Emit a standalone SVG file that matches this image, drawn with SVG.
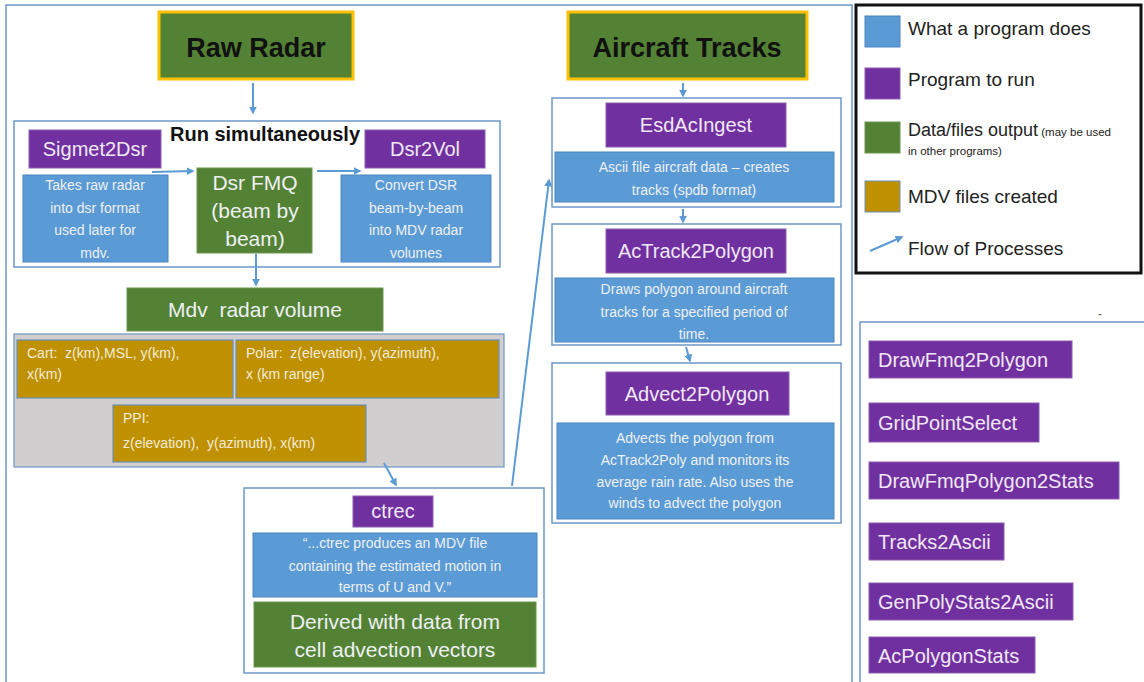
<svg xmlns="http://www.w3.org/2000/svg" width="1144" height="682" viewBox="0 0 1144 682">
<defs>
<style>
.t{font-family:"Liberation Sans",Arial,sans-serif}
.blue{fill:#5b9bd5;stroke:#4a86c0;stroke-width:1}
.purple{fill:#7030a0;stroke:#8a5cb0;stroke-width:1}
.green{fill:#548235;stroke:#6a9650;stroke-width:1}
.gold{fill:#bf9000;stroke:#6d8fb8;stroke-width:1.2}
.frame{fill:#fff;stroke:#6d97c8;stroke-width:1.5}
.lt{fill:#eef0f4}
.pt{fill:#f0e8f6;font-size:20px}
.bt{fill:#eef0f4;font-size:14px}
.conn{stroke:#5b9bd5;stroke-width:2;fill:none}
</style>
<marker id="ah" viewBox="0 0 10 10" refX="8" refY="5" markerWidth="4" markerHeight="4" orient="auto">
<path d="M0,0 L10,5 L0,10 z" fill="#5b9bd5"/>
</marker>
</defs>
<rect x="0" y="0" width="1144" height="682" fill="#fff"/>
<rect x="6" y="5" width="846" height="690" fill="none" stroke="#6d97c8" stroke-width="1.5"/>

<g id="raw-radar">
<rect x="159" y="12" width="194" height="67" fill="#548235" stroke="#ffc000" stroke-width="3"/>
<text class="t" x="256" y="57" font-size="27" font-weight="bold" text-anchor="middle" fill="#111">Raw Radar</text>
</g>

<g id="run-simultaneously">
<rect x="14" y="121" width="486" height="146" class="frame"/>
<text class="t" x="265" y="141" font-size="20" font-weight="bold" text-anchor="middle" fill="#111">Run simultaneously</text>
</g>

<g id="sigmet2dsr">
<rect x="29" y="130" width="132" height="38" class="purple"/>
<text class="t pt" x="95" y="156" text-anchor="middle">Sigmet2Dsr</text>
<rect x="23" y="175" width="145" height="87" class="blue"/>
<text class="t bt" text-anchor="middle"><tspan x="95" y="190">Takes raw radar</tspan><tspan x="95" y="213">into dsr format</tspan><tspan x="95" y="235">used later for</tspan><tspan x="95" y="258">mdv.</tspan></text>
</g>

<g id="dsr-fmq">
<rect x="197" y="168" width="115" height="85" class="green"/>
<text class="t lt" font-size="21" text-anchor="middle"><tspan x="255" y="190">Dsr FMQ</tspan><tspan x="255" y="218">(beam by</tspan><tspan x="255" y="246">beam)</tspan></text>
</g>

<g id="dsr2vol">
<rect x="365" y="130" width="120" height="38" class="purple"/>
<text class="t pt" x="425" y="156" text-anchor="middle">Dsr2Vol</text>
<rect x="341" y="175" width="150" height="87" class="blue"/>
<text class="t bt" text-anchor="middle"><tspan x="416" y="190">Convert DSR</tspan><tspan x="416" y="213">beam-by-beam</tspan><tspan x="416" y="235">into MDV radar</tspan><tspan x="416" y="258">volumes</tspan></text>
</g>

<g id="mdv-radar-volume">
<rect x="127" y="288" width="256" height="43" class="green"/>
<text class="t lt" x="255" y="317" font-size="21" text-anchor="middle">Mdv&#160; radar volume</text>
</g>

<g id="mdv-types">
<rect x="14" y="334" width="490" height="133" fill="#d0cece" stroke="#6d97c8" stroke-width="1.2"/>
<rect x="17" y="340" width="216" height="58" class="gold"/>
<text class="t" font-size="14" fill="#f2ecd8"><tspan x="27" y="358">Cart:&#160; z(km),MSL, y(km),</tspan><tspan x="27" y="379">x(km)</tspan></text>
<rect x="236" y="340" width="263" height="58" class="gold"/>
<text class="t" font-size="14" fill="#f2ecd8"><tspan x="246" y="358">Polar:&#160; z(elevation), y(azimuth),</tspan><tspan x="246" y="379">x (km range)</tspan></text>
<rect x="113" y="405" width="253" height="57" class="gold"/>
<text class="t" font-size="14" fill="#f2ecd8"><tspan x="123" y="423">PPI:</tspan><tspan x="123" y="448">z(elevation),&#160; y(azimuth), x(km)</tspan></text>
</g>

<g id="ctrec">
<rect x="244" y="488" width="300" height="185" class="frame"/>
<rect x="353" y="496" width="80" height="31" class="purple"/>
<text class="t pt" x="393" y="518" text-anchor="middle">ctrec</text>
<rect x="253" y="533" width="284" height="64" class="blue"/>
<text class="t bt" text-anchor="middle"><tspan x="395" y="548">“...ctrec produces an MDV file</tspan><tspan x="395" y="571">containing the estimated motion in</tspan><tspan x="395" y="592">terms of U and V.”</tspan></text>
<rect x="254" y="602" width="282" height="65" class="green"/>
<text class="t lt" font-size="21" text-anchor="middle"><tspan x="395" y="629">Derived with data from</tspan><tspan x="395" y="657">cell advection vectors</tspan></text>
</g>

<g id="aircraft-tracks">
<rect x="568" y="12" width="239" height="67" fill="#548235" stroke="#ffc000" stroke-width="3"/>
<text class="t" x="687" y="57" font-size="27" font-weight="bold" text-anchor="middle" fill="#111">Aircraft Tracks</text>
</g>

<g id="esdacingest">
<rect x="552" y="98" width="289" height="109" class="frame"/>
<rect x="606" y="103" width="180" height="44" class="purple"/>
<text class="t pt" x="696" y="132" text-anchor="middle">EsdAcIngest</text>
<rect x="555" y="152" width="279" height="50" class="blue"/>
<text class="t bt" text-anchor="middle"><tspan x="694" y="172">Ascii file aircraft data – creates</tspan><tspan x="694" y="195">tracks (spdb format)</tspan></text>
</g>

<g id="actrack2polygon">
<rect x="552" y="224" width="289" height="121" class="frame"/>
<rect x="606" y="229" width="180" height="44" class="purple"/>
<text class="t pt" x="696" y="258" text-anchor="middle">AcTrack2Polygon</text>
<rect x="555" y="278" width="279" height="64" class="blue"/>
<text class="t bt" text-anchor="middle"><tspan x="694" y="294">Draws polygon around aircraft</tspan><tspan x="694" y="317">tracks for a specified period of</tspan><tspan x="694" y="339">time.</tspan></text>
</g>

<g id="advect2polygon">
<rect x="552" y="363" width="289" height="160" class="frame"/>
<rect x="606" y="372" width="183" height="43" class="purple"/>
<text class="t pt" x="697" y="401" text-anchor="middle">Advect2Polygon</text>
<rect x="557" y="423" width="277" height="96" class="blue"/>
<text class="t bt" text-anchor="middle"><tspan x="695" y="443">Advects the polygon from</tspan><tspan x="695" y="465">AcTrack2Poly and monitors its</tspan><tspan x="695" y="487">average rain rate. Also uses the</tspan><tspan x="695" y="508">winds to advect the polygon</tspan></text>
</g>

<g id="legend">
<rect x="856" y="5" width="285" height="268" fill="#fff" stroke="#111" stroke-width="3"/>
<rect x="865" y="16" width="35" height="31" fill="#5b9bd5" stroke="#4a86c0"/>
<text class="t" x="908" y="35" font-size="19" fill="#222">What a program does</text>
<rect x="865" y="68" width="35" height="31" fill="#7030a0" stroke="#8a5cb0"/>
<text class="t" x="908" y="86" font-size="19" fill="#222">Program to run</text>
<rect x="865" y="122" width="35" height="31" fill="#548235" stroke="#6a9650"/>
<text class="t" x="908" y="136" fill="#222"><tspan font-size="18">Data/files output</tspan><tspan font-size="11.5"> (may be used</tspan><tspan x="908" y="155" font-size="11.5">in other programs)</tspan></text>
<rect x="865" y="181" width="35" height="31" fill="#bf9000" stroke="#6d8fb8"/>
<text class="t" x="908" y="203" font-size="19" fill="#222">MDV files created</text>
<line x1="870" y1="251" x2="902" y2="237" class="conn" marker-end="url(#ah)"/>
<text class="t" x="908" y="255" font-size="19" fill="#222">Flow of Processes</text>
</g>

<text class="t" x="1098" y="318" font-size="12" fill="#555">-</text>

<g id="other-programs">
<rect x="860" y="322" width="300" height="380" fill="#fff" stroke="#6d97c8" stroke-width="1.5"/>
<rect x="869" y="341" width="203" height="37" class="purple"/>
<text class="t pt" x="878" y="367">DrawFmq2Polygon</text>
<rect x="869" y="403" width="170" height="39" class="purple"/>
<text class="t pt" x="878" y="430">GridPointSelect</text>
<rect x="869" y="462" width="250" height="37" class="purple"/>
<text class="t pt" x="878" y="488">DrawFmqPolygon2Stats</text>
<rect x="869" y="523" width="135" height="37" class="purple"/>
<text class="t pt" x="878" y="549">Tracks2Ascii</text>
<rect x="869" y="583" width="204" height="37" class="purple"/>
<text class="t pt" x="878" y="609">GenPolyStats2Ascii</text>
<rect x="869" y="637" width="166" height="36" class="purple"/>
<text class="t pt" x="878" y="663">AcPolygonStats</text>
</g>

<g id="connectors">
<line x1="253" y1="83" x2="253" y2="113" class="conn" marker-end="url(#ah)"/>
<line x1="152" y1="172" x2="193" y2="171" class="conn" marker-end="url(#ah)"/>
<line x1="317" y1="171" x2="360" y2="171" class="conn" marker-end="url(#ah)"/>
<line x1="256" y1="254" x2="256" y2="285" class="conn" marker-end="url(#ah)"/>
<line x1="384" y1="463" x2="396" y2="485" class="conn" marker-end="url(#ah)"/>
<line x1="512" y1="486" x2="549" y2="180" class="conn" marker-end="url(#ah)"/>
<line x1="683" y1="83" x2="683" y2="96" class="conn" marker-end="url(#ah)"/>
<line x1="683" y1="209" x2="683" y2="222" class="conn" marker-end="url(#ah)"/>
<line x1="686" y1="347" x2="690" y2="361" class="conn" marker-end="url(#ah)"/>
</g>
</svg>
